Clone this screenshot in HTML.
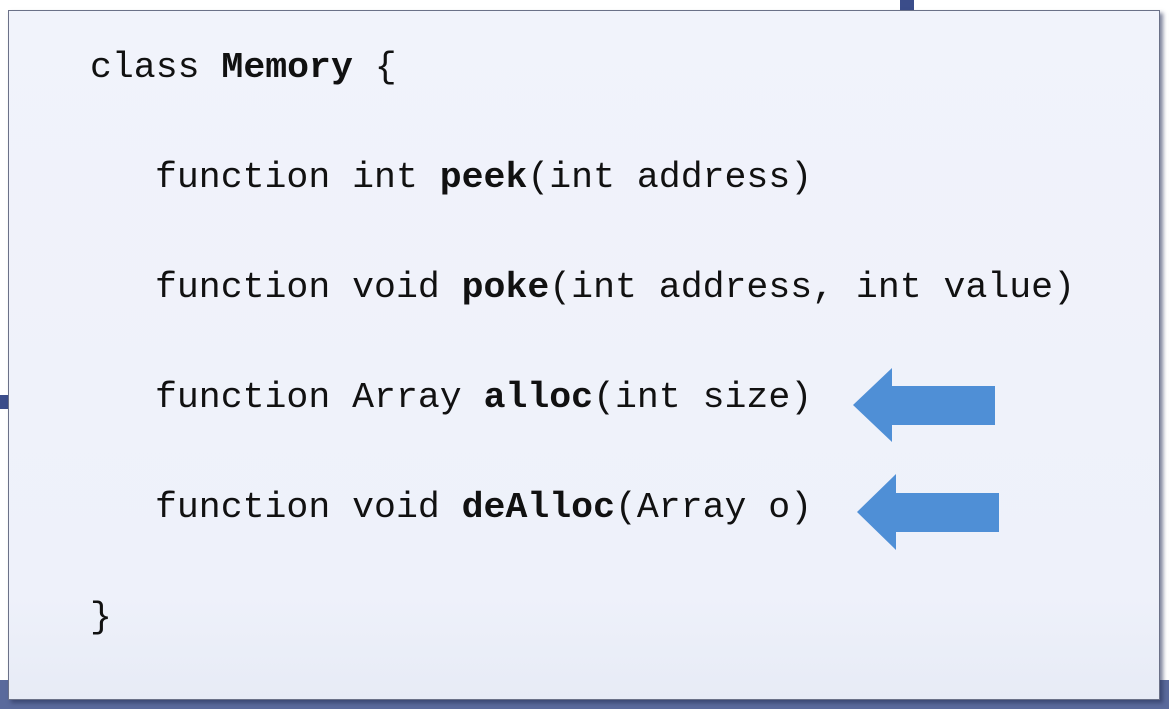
<!DOCTYPE html>
<html><head><style>
body{margin:0;width:1169px;height:709px;overflow:hidden;background:#fff;position:relative;font-family:"Liberation Mono",monospace}
.bg{position:absolute;left:0;top:680px;width:1169px;height:29px;background:#5a6a9c}
.bg2{position:absolute;left:900px;top:0;width:14px;height:12px;background:#3b4d8a}
.bg3{position:absolute;left:0;top:395px;width:10px;height:14px;background:#3b4d8a}
.box{position:absolute;left:8px;top:10px;width:1150px;height:688px;background:linear-gradient(#f1f3fb,#eef1fa 85%,#e7ebf6);border:1px solid #6b7188;box-shadow:3px 3px 4px rgba(40,50,90,.6)}
.l{position:absolute;font-size:36.5px;color:#111;white-space:pre;line-height:1}
b{font-weight:bold}
</style></head><body>
<div class="bg"></div><div class="bg2"></div><div class="bg3"></div>
<div class="box"></div>
<div class="l" style="left:90px;top:50px">class <b>Memory</b> {</div>
<div class="l" style="left:155px;top:160px">function int <b>peek</b>(int address)</div>
<div class="l" style="left:155px;top:270px">function void <b>poke</b>(int address, int value)</div>
<div class="l" style="left:155px;top:380px">function Array <b>alloc</b>(int size)</div>
<div class="l" style="left:155px;top:490px">function void <b>deAlloc</b>(Array o)</div>
<div class="l" style="left:90px;top:600px">}</div>
<svg style="position:absolute;left:0;top:0" width="1169" height="709">
<polygon points="853,405 892,368 892,386 995,386 995,425 892,425 892,442" fill="#4f8fd6"/>
<polygon points="857,512 896,474 896,493 999,493 999,532 896,532 896,550" fill="#4f8fd6"/>
</svg>
</body></html>
